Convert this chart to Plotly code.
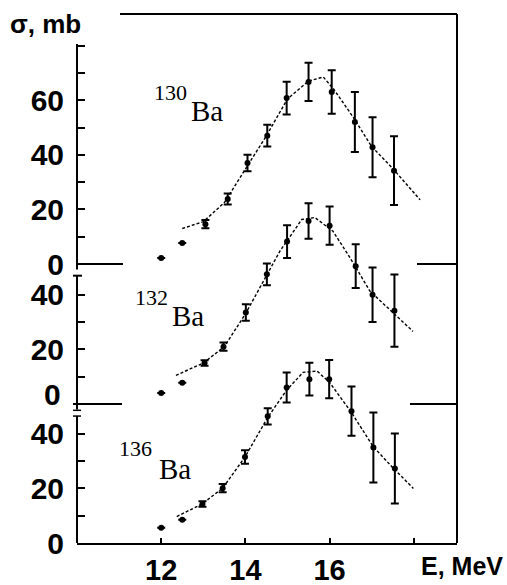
import plotly.graph_objects as go

# ---------------- data ----------------
# 130Ba (top panel)
e130 = [12.0, 12.5, 13.05, 13.58, 14.05, 14.52, 14.98, 15.5, 16.05, 16.6, 17.02, 17.53]
s130 = [2.2, 7.7, 14.6, 23.8, 37.0, 47.0, 60.8, 66.7, 63.0, 52.0, 42.8, 34.2]
d130 = [0, 0, 1.5, 2.0, 3.0, 4.0, 6.0, 7.0, 8.0, 11.0, 11.0, 12.6]
fe130 = [12.5, 13.0, 13.5, 14.0, 14.5, 15.0, 15.5, 15.85, 16.1, 16.55, 17.0, 17.5, 18.15]
fs130 = [13.0, 15.5, 22.5, 34.5, 47.0, 60.5, 67.0, 68.5, 64.0, 54.0, 43.0, 35.0, 23.5]

# 132Ba (middle panel)
e132 = [12.0, 12.5, 13.03, 13.48, 14.01, 14.51, 14.99, 15.5, 16.0, 16.62, 17.02, 17.54]
s132 = [4.0, 7.8, 15.0, 21.0, 33.5, 47.5, 59.5, 67.0, 65.3, 50.5, 40.0, 34.2]
d132 = [0, 0, 1.0, 1.5, 3.0, 4.0, 6.0, 6.5, 7.0, 8.0, 10.0, 13.2]
fe132 = [12.35, 13.0, 13.5, 14.0, 14.5, 14.82, 15.34, 15.65, 16.08, 16.48, 16.96, 17.51, 17.98]
fs132 = [10.5, 15.0, 21.0, 33.0, 47.0, 56.0, 67.6, 68.3, 63.3, 53.7, 41.3, 33.3, 26.6]

# 136Ba (bottom panel)
e136 = [12.0, 12.5, 12.98, 13.46, 13.99, 14.53, 14.98, 15.52, 15.99, 16.52, 17.04, 17.55]
s136 = [5.6, 8.5, 14.3, 20.1, 31.5, 46.4, 57.0, 60.0, 60.0, 48.3, 35.0, 27.3]
d136 = [0, 0, 1.0, 1.5, 2.5, 3.0, 5.5, 6.0, 7.0, 9.0, 12.8, 12.8]
fe136 = [12.37, 12.97, 13.46, 13.99, 14.53, 14.98, 15.37, 15.7, 16.0, 16.52, 17.03, 17.5, 17.99]
fs136 = [9.7, 14.3, 20.1, 31.5, 46.0, 56.0, 62.5, 63.0, 58.8, 47.8, 35.4, 27.6, 20.0]

x_ticks = [12, 14, 16, 18]
x_ticktext = ["12", "14", "16", ""]
top_ticks = [0, 10, 20, 30, 40, 50, 60, 70, 80]
top_ticktext = ["0", "", "20", "", "40", "", "60", "", ""]
mid_ticks = [0, 10, 20, 30, 40]
mid_ticktext = ["", "", "20", "", "40"]   # its "0" sits a little above the tick (annotation)
low_ticks = [0, 10, 20, 30, 40]
low_ticktext = ["0", "", "20", "", "40"]

# ---------------- layout geometry ----------------
W, H = 507, 585
L, R, T, B = 77, 457, 14, 543
PW, PH = R - L, B - T
K = 2.73  # pixels per mb


def px(x):
    return (x - L) / PW


def py(y):
    return (B - y) / PH


def yrange(zero_pix):
    lo = -(B - zero_pix) / K
    return [lo, lo + PH / K]


INK = "black"
fig = go.Figure()

panels = [
    (e130, s130, d130, fe130, fs130, "y"),
    (e132, s132, d132, fe132, fs132, "y2"),
    (e136, s136, d136, fe136, fs136, "y3"),
]
for e, s, d, fe, fs, ya in panels:
    fig.add_trace(go.Scatter(x=fe, y=fs, yaxis=ya, mode="lines",
                             line=dict(color=INK, width=1.4, dash="3px,2px"),
                             showlegend=False, hoverinfo="skip"))
    fig.add_trace(go.Scatter(x=e, y=s, yaxis=ya, mode="markers",
                             marker=dict(color=INK, size=6, symbol="circle"),
                             error_y=dict(type="data", array=d, visible=True,
                                          color=INK, thickness=2, width=4),
                             showlegend=False, cliponaxis=False))

tickfont = dict(family="Liberation Sans, Arial, sans-serif", size=30, color=INK, weight="bold")
xtickfont = dict(family="Liberation Sans, Arial, sans-serif", size=29, color=INK, weight="bold")
common_y = dict(showgrid=False, zeroline=False, showline=False, ticks="inside",
                ticklen=8, tickwidth=1.5, tickcolor=INK, tickfont=tickfont,
                ticklabelstandoff=12, fixedrange=True, automargin=False)

fig.update_layout(
    width=W, height=H,
    margin=dict(l=L, r=W - R, t=T, b=H - B, pad=0, autoexpand=False),
    paper_bgcolor="white", plot_bgcolor="white",
    xaxis=dict(range=[10, 10 + PW / 42.1], showgrid=False, zeroline=False,
               showline=True, linecolor=INK, linewidth=2, ticks="inside",
               ticklen=5, tickwidth=1.5, tickcolor=INK, tickvals=x_ticks,
               ticktext=x_ticktext, tickfont=xtickfont, ticklabelstandoff=0,
               automargin=False, fixedrange=True),
    yaxis=dict(range=yrange(264), tickvals=top_ticks, ticktext=top_ticktext, **common_y),
    yaxis2=dict(range=yrange(404), tickvals=mid_ticks, ticktext=mid_ticktext,
                overlaying="y", side="left", anchor="x", **common_y),
    yaxis3=dict(range=yrange(543), tickvals=low_ticks, ticktext=low_ticktext,
                overlaying="y", side="left", anchor="x", **common_y),
)

# ---------------- frame / axis breaks ----------------
shapes = []


def hline(x0, x1, y, yref, w=2):
    shapes.append(dict(type="line", xref="paper", yref=yref, x0=px(x0), x1=px(x1),
                       y0=y, y1=y, line=dict(color=INK, width=w)))


def vline(x, y0, y1, yref, w=2):
    shapes.append(dict(type="line", xref="paper", yref=yref, x0=px(x), x1=px(x),
                       y0=y0, y1=y1, line=dict(color=INK, width=w)))


# left axis segments
vline(L, -2, 80.6, "y")
vline(L, -2, 47, "y2")
vline(L, 0, 46.5, "y3")
# break caps
hline(73, 82, 47, "y2", 2)
hline(73, 81, 46.5, "y3", 1.5)
hline(73, 81, 48.6, "y3", 1.5)
# zero lines of the upper panels
hline(L, 123, 0, "y")
hline(417, R, 0, "y")
hline(73, 122, 0, "y2")
hline(410, R, 0, "y2")
# right border and top border
shapes.append(dict(type="line", xref="paper", yref="paper", x0=1, x1=1, y0=0, y1=1,
                   line=dict(color=INK, width=2)))
shapes.append(dict(type="line", xref="paper", yref="paper", x0=px(120), x1=1, y0=1, y1=1,
                   line=dict(color=INK, width=2)))
fig.update_layout(shapes=shapes)

# ---------------- texts ----------------
bold = dict(family="Liberation Sans, Arial, sans-serif", color=INK, weight="bold")
serif = "Liberation Serif, Times New Roman, serif"
ann = []
ann.append(dict(text="σ, mb", x=px(8), y=py(24), xref="paper", yref="paper",
                xanchor="left", yanchor="middle", showarrow=False,
                font=dict(size=26, **bold)))
ann.append(dict(text="E, MeV", x=px(505), y=py(566), xref="paper", yref="paper",
                xanchor="right", yanchor="middle", showarrow=False,
                font=dict(size=25, **bold)))
ann.append(dict(text="0", x=px(63), y=py(394), xref="paper", yref="paper",
                xanchor="right", yanchor="middle", showarrow=False,
                font=tickfont))
for num, nx, ny, bx, by in [("130", 152, 93, 189, 111),
                            ("132", 133, 297, 170, 316),
                            ("136", 117, 448, 157, 469)]:
    ann.append(dict(text=num, x=px(nx), y=py(ny), xref="paper", yref="paper",
                    xanchor="left", yanchor="middle", showarrow=False,
                    font=dict(family=serif, size=22, color=INK)))
    ann.append(dict(text="Ba", x=px(bx), y=py(by), xref="paper", yref="paper",
                    xanchor="left", yanchor="middle", showarrow=False,
                    font=dict(family=serif, size=29, color=INK)))
fig.update_layout(annotations=ann)

# the page's default 8px body margin would shift the figure; remove it
fig.write_html("out.html", config={"displayModeBar": False},
               post_script="document.body.style.margin='0';document.body.style.overflow='hidden';")
